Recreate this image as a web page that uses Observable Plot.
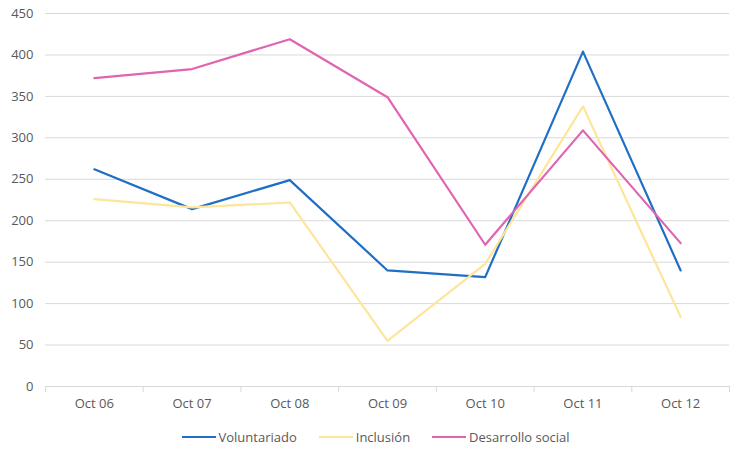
<!DOCTYPE html>
<html>
<head>
<meta charset="utf-8">
<script src="https://cdn.jsdelivr.net/npm/d3@7"></script>
<script src="https://cdn.jsdelivr.net/npm/@observablehq/plot@0.6"></script>
<style>
  body { margin: 0; background: #fff; font-family: "Open Sans", sans-serif; }
  #legend { display: flex; justify-content: center; gap: 22px; font-size: 13px; color: #595959; margin-top: 10px; padding-left: 14px; }
  #legend span { display: inline-flex; align-items: center; }
  #legend i { display: inline-block; width: 34px; height: 2px; margin-right: 3px; }
</style>
</head>
<body>
<div id="chart"></div>
<div id="legend"></div>
<script>
const categories = ["Oct 06", "Oct 07", "Oct 08", "Oct 09", "Oct 10", "Oct 11", "Oct 12"];
const seriesNames = ["Voluntariado", "Inclusión", "Desarrollo social"];
const voluntariado = [262, 214, 249, 140, 132, 404, 140];
const inclusion = [226, 216, 222, 55, 148, 338, 84];
const desarrollo = [372, 383, 419, 349, 171, 309, 173];
const colors = ["#1f6fc5", "#fde59a", "#e064b0"];
const yTicks = [0, 50, 100, 150, 200, 250, 300, 350, 400, 450];

const seriesValues = [voluntariado, inclusion, desarrollo];
const data = [];
seriesNames.forEach((s, si) => seriesValues[si].forEach((v, i) => data.push({series: s, idx: i, value: v})));
const boundaries = d3.range(categories.length + 1).map(i => i - 0.5);

const chart = Plot.plot({
  width: 737,
  height: 418,
  marginLeft: 45,
  marginRight: 8,
  marginTop: 13,
  marginBottom: 32,
  style: {fontFamily: "Open Sans, sans-serif", fontSize: "13px", color: "#595959", background: "#fff"},
  x: {type: "linear", domain: [-0.5, categories.length - 0.5]},
  y: {domain: [0, 450]},
  color: {domain: seriesNames, range: colors},
  marks: [
    Plot.gridY(yTicks, {stroke: "#d9d9d9", strokeOpacity: 1}),
    Plot.axisY(yTicks, {tickSize: 0, tickPadding: 12, label: null, fill: "#595959", fontSize: 13}),
    Plot.ruleY([0], {stroke: "#d9d9d9"}),
    Plot.axisX(boundaries, {tickSize: 6, tickFormat: () => "", stroke: "#d9d9d9", label: null}),
    Plot.axisX(d3.range(categories.length), {tickSize: 0, tickPadding: 12, tickFormat: i => categories[i], label: null, fill: "#595959", fontSize: 13}),
    Plot.line(data, {x: "idx", y: "value", z: "series", stroke: "series", strokeWidth: 2.2})
  ]
});
document.getElementById("chart").appendChild(chart);

const legend = document.getElementById("legend");
seriesNames.forEach((s, i) => {
  const span = document.createElement("span");
  span.innerHTML = `<i style="background:${colors[i]}"></i>${s}`;
  legend.appendChild(span);
});
</script>
</body>
</html>
